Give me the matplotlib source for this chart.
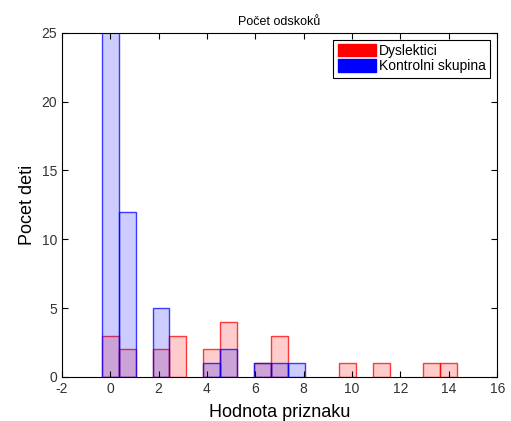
import matplotlib
matplotlib.use("Agg")
from matplotlib import pyplot as plt
from matplotlib.patches import Patch
import numpy as np

plt.rcParams['font.family'] = ['Liberation Sans', 'DejaVu Sans']
plt.rcParams['axes.unicode_minus'] = False

# stredy binu (21 binu v rozsahu 0..14)
centers = np.arange(21) * 0.7
# pocty v binech
dys = [3, 2, 0, 2, 3, 0, 2, 4, 0, 1, 3, 0, 0, 0, 1, 0, 1, 0, 0, 1, 1]
kontrol = [28, 12, 0, 5, 0, 0, 1, 2, 0, 1, 1, 1, 0, 0, 0, 0, 0, 0, 0, 0, 0]

fig = plt.figure(figsize=(5.11, 4.21), dpi=100)
ax = fig.add_axes([0.121, 0.105, 0.852, 0.817])

d = np.array(dys)
k = np.array(kontrol)
ax.bar(centers[d > 0], d[d > 0], width=0.7, facecolor=(1, 0, 0, 0.2),
       edgecolor=(1, 0, 0, 0.75), linewidth=1.0)
ax.bar(centers[k > 0], k[k > 0], width=0.7, facecolor=(0, 0, 1, 0.2),
       edgecolor=(0, 0, 1, 0.75), linewidth=1.0)

ax.set_xlim(-2, 16)
ax.set_ylim(0, 25)
ax.set_xticks(np.arange(-2, 17, 2))
ax.set_yticks(np.arange(0, 26, 5))
ax.tick_params(direction="in", top=True, right=True, labelsize=10, length=4,
               labelcolor="#333333")
for s in ax.spines.values():
    s.set_linewidth(0.8)

ax.set_title("Počet odskoků", fontsize=9)
ax.set_xlabel("Hodnota priznaku", fontsize=13, labelpad=6)
ax.set_ylabel("Pocet deti", fontsize=13)

handles = [Patch(facecolor="red", edgecolor="red"),
           Patch(facecolor="blue", edgecolor="blue")]
leg = ax.legend(handles, ["Dyslektici", "Kontrolni skupina"], loc="upper right",
                fontsize=10, fancybox=False, edgecolor="black", framealpha=1,
                handlelength=2.8, handleheight=1.0, borderaxespad=0.5,
                labelspacing=0.1, handletextpad=0.2, borderpad=0.3)
leg.get_frame().set_linewidth(0.8)

plt.savefig("out.png", dpi=100)
